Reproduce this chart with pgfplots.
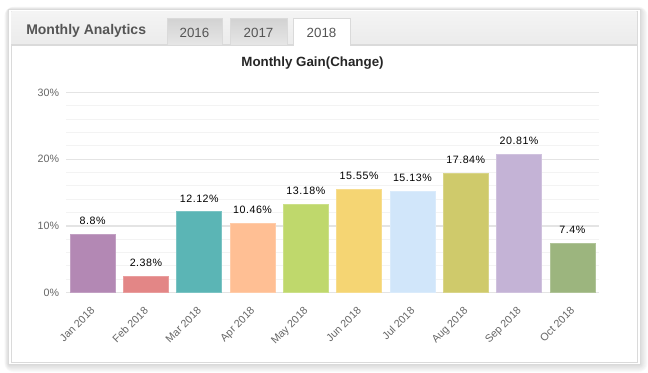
\documentclass[border=0pt]{standalone}
\usepackage{pgfplots}
\pgfplotsset{compat=1.18}
\usepackage{fontspec}
\setmainfont{Liberation Sans}
\newfontfamily\vfont[LetterSpace=5]{Liberation Sans}
\definecolor{cJan}{HTML}{B388B4}
\definecolor{cFeb}{HTML}{E38686}
\definecolor{cMar}{HTML}{5BB5B5}
\definecolor{cApr}{HTML}{FFBF94}
\definecolor{cMay}{HTML}{BFD86C}
\definecolor{cJun}{HTML}{F5D573}
\definecolor{cJul}{HTML}{D1E6FA}
\definecolor{cAug}{HTML}{CFCA6B}
\definecolor{cSep}{HTML}{C4B3D6}
\definecolor{cOct}{HTML}{9CB57E}
\definecolor{ticktext}{HTML}{666666}
\definecolor{hdrtext}{HTML}{555555}
\definecolor{bordercol}{HTML}{DADADA}
\definecolor{hdrtop}{HTML}{F4F4F4}
\definecolor{hdrbot}{HTML}{EBEBEB}
\definecolor{tabtop}{HTML}{D2D2D2}
\definecolor{tabbot}{HTML}{E6E6E6}
\definecolor{majgrid}{HTML}{E4E4E4}
\definecolor{mingrid}{HTML}{F3F3F3}
\pgfplotsset{vb/.style={fill=#1, draw=#1!80!white, line width=0.4pt}}
\begin{document}
\begin{tikzpicture}
\begin{scope}[x=0.75pt,y=-0.75pt]
\useasboundingbox (0,0) rectangle (648,372);
\foreach \i in {7,6,5,4,3,2,1}{
  \fill[black,opacity=0.02,rounded corners=\i pt] (8.5-\i*0.6,9.5-\i*0.4) rectangle (640+\i*1.1,364.5+\i*1.1);
}
\fill[white,draw=bordercol,line width=0.6pt] (8.5,9.5) rectangle (640,364.5);
\draw[bordercol,line width=0.6pt] (11,11) rectangle (637,362);
\path[top color=hdrtop,bottom color=hdrbot] (11.3,11.3) rectangle (636.7,45);
\draw[bordercol,line width=0.8pt] (11,45) -- (637,45);
\path[draw=bordercol,line width=0.6pt,top color=tabtop,bottom color=tabbot] (167,18) rectangle (222,45);
\path[draw=bordercol,line width=0.6pt,top color=tabtop,bottom color=tabbot] (230,18) rectangle (287,45);
\fill[white] (293,18) rectangle (350,45.6);
\draw[bordercol,line width=0.6pt] (293,45.6) -- (293,18) -- (350,18) -- (350,45.6);
\node[anchor=west,inner sep=0pt,text=hdrtext,font=\bfseries\fontsize{10.5}{12}\selectfont] at (26,31) {Monthly Analytics};
\node[inner sep=0pt,text=hdrtext,font=\fontsize{10}{12}\selectfont] at (194.5,32.5) {2016};
\node[inner sep=0pt,text=hdrtext,font=\fontsize{10}{12}\selectfont] at (258.5,32.5) {2017};
\node[inner sep=0pt,text=hdrtext,font=\fontsize{10}{12}\selectfont] at (321.5,32.5) {2018};
\node[inner sep=0pt,text=black!85,font=\bfseries\fontsize{10}{12}\selectfont] at (312.5,63) {Monthly Gain(Change)};
\end{scope}
\begin{axis}[
  at={(49.5pt,-219.375pt)}, anchor=south west,
  scale only axis, width=399.75pt, height=150pt,
  xmin=-0.5, xmax=9.5, ymin=0, ymax=30,
  ybar, bar width=33.75pt, bar shift=0pt,
  axis line style={draw=none},
  major tick length=0pt, minor tick length=0pt,
  xtick={0,1,2,3,4,5,6,7,8,9},
  xticklabels={Jan 2018,Feb 2018,Mar 2018,Apr 2018,May 2018,Jun 2018,Jul 2018,Aug 2018,Sep 2018,Oct 2018},
  xticklabel style={xshift=-2pt, yshift=-10pt, rotate=45, anchor=north east, inner sep=0pt, text=ticktext, font=\fontsize{8}{9}\selectfont},
  ytick={0,10,20,30},
  minor y tick num=4,
  yticklabel={\pgfmathprintnumber{\tick}\%},
  yticklabel style={anchor=east, inner sep=0pt, xshift=-5pt, text=ticktext, font=\fontsize{8}{9}\selectfont},
  /pgf/number format/assume math mode=true,
  ymajorgrids, yminorgrids,
  major grid style={draw=majgrid, line width=1pt},
  minor grid style={draw=mingrid, line width=0.7pt},
  clip=false,
  every node near coord/.style={anchor=south, inner sep=0pt, yshift=7pt, text=black, font=\vfont\fontsize{8}{9}\selectfont},
]
\addplot[vb=cJan, nodes near coords={8.8\%}] coordinates {(0,8.8)};
\addplot[vb=cFeb, nodes near coords={2.38\%}] coordinates {(1,2.38)};
\addplot[vb=cMar, nodes near coords={12.12\%}] coordinates {(2,12.12)};
\addplot[vb=cApr, nodes near coords={10.46\%}] coordinates {(3,10.46)};
\addplot[vb=cMay, nodes near coords={13.18\%}] coordinates {(4,13.18)};
\addplot[vb=cJun, nodes near coords={15.55\%}] coordinates {(5,15.55)};
\addplot[vb=cJul, nodes near coords={15.13\%}] coordinates {(6,15.13)};
\addplot[vb=cAug, nodes near coords={17.84\%}] coordinates {(7,17.84)};
\addplot[vb=cSep, nodes near coords={20.81\%}] coordinates {(8,20.81)};
\addplot[vb=cOct, nodes near coords={7.4\%}] coordinates {(9,7.4)};
\end{axis}
\end{tikzpicture}
\end{document}
